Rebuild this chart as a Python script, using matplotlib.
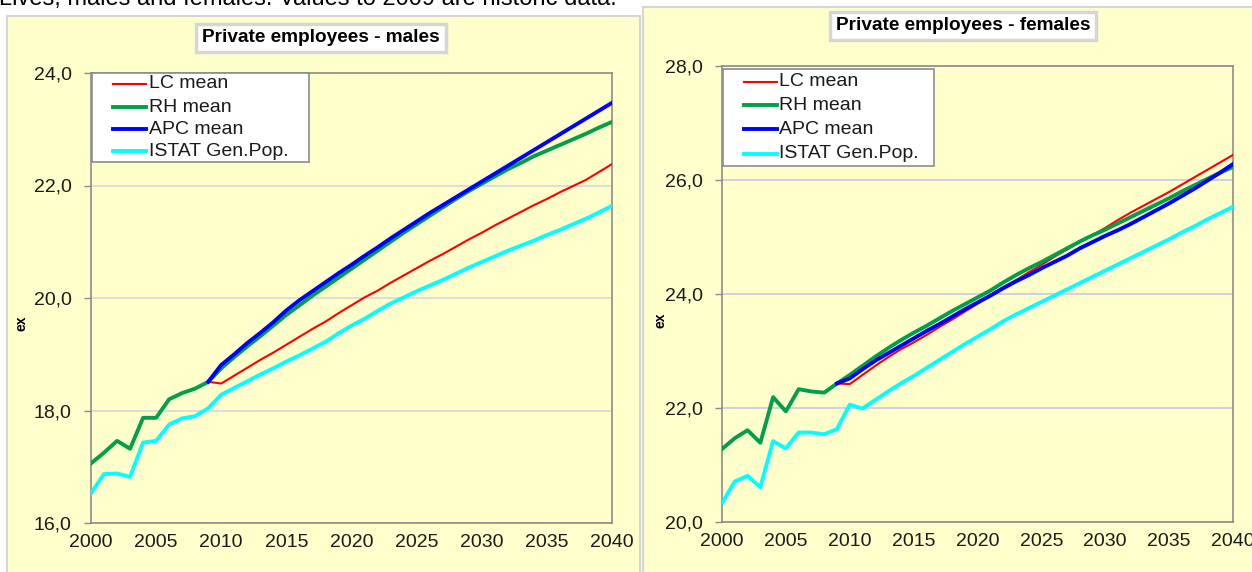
import matplotlib
matplotlib.use("Agg")
import matplotlib.pyplot as plt
from matplotlib.patches import Rectangle
from matplotlib.lines import Line2D
from matplotlib.ticker import FuncFormatter

# ---------------- data ----------------
years = list(range(2000, 2041))
proj_years = list(range(2009, 2041))

series_labels = ["LC mean", "RH mean", "APC mean", "ISTAT Gen.Pop."]
series_colors = ["#FF0000", "#00A04A", "#0000FF", "#00FFFF"]

# males
m_lc = [18.51, 18.48, 18.62, 18.76, 18.90, 19.03, 19.17, 19.31, 19.45, 19.58, 19.73,
        19.87, 20.01, 20.13, 20.27, 20.40, 20.53, 20.66, 20.78, 20.91, 21.04,
        21.16, 21.29, 21.41, 21.53, 21.65, 21.76, 21.88, 21.99, 22.10, 22.24, 22.38]
m_rh = [17.06, 17.25, 17.46, 17.32, 17.87, 17.87, 18.20, 18.31, 18.39, 18.51,
        18.75, 18.95, 19.14, 19.32, 19.51, 19.70, 19.87, 20.04, 20.20, 20.36,
        20.52, 20.68, 20.84, 21.00, 21.16, 21.31, 21.46, 21.61, 21.76, 21.90,
        22.03, 22.16, 22.29, 22.40, 22.52, 22.62, 22.72, 22.82, 22.92, 23.03, 23.13]
m_apc = [18.51, 18.81, 19.00, 19.20, 19.38, 19.57, 19.78, 19.96, 20.12, 20.28, 20.44,
         20.59, 20.75, 20.90, 21.06, 21.21, 21.36, 21.51, 21.65, 21.79, 21.93,
         22.07, 22.21, 22.35, 22.49, 22.63, 22.77, 22.91, 23.05, 23.19, 23.33, 23.47]
m_istat = [16.53, 16.87, 16.88, 16.82, 17.43, 17.46, 17.75, 17.86, 17.90, 18.04,
           18.28, 18.40, 18.52, 18.64, 18.75, 18.87, 18.98, 19.10, 19.22, 19.37,
           19.51, 19.63, 19.77, 19.90, 20.01, 20.12, 20.22, 20.32, 20.43, 20.54,
           20.64, 20.74, 20.84, 20.93, 21.02, 21.12, 21.21, 21.31, 21.41, 21.52, 21.64]

# females
f_lc = [22.43, 22.42, 22.58, 22.74, 22.89, 23.03, 23.15, 23.28, 23.42, 23.55, 23.69,
        23.83, 23.98, 24.12, 24.24, 24.38, 24.51, 24.65, 24.78, 24.91, 25.03,
        25.16, 25.30, 25.43, 25.55, 25.67, 25.79, 25.92, 26.05, 26.18, 26.31, 26.44]
f_rh = [21.28, 21.47, 21.61, 21.39, 22.19, 21.94, 22.33, 22.29, 22.27, 22.43,
        22.58, 22.74, 22.90, 23.05, 23.19, 23.32, 23.44, 23.57, 23.70, 23.82,
        23.94, 24.06, 24.20, 24.33, 24.45, 24.56, 24.68, 24.80, 24.92, 25.03,
        25.13, 25.24, 25.35, 25.46, 25.57, 25.68, 25.80, 25.91, 26.02, 26.13, 26.23]
f_apc = [22.43, 22.52, 22.68, 22.83, 22.96, 23.09, 23.22, 23.35, 23.47, 23.60, 23.73,
         23.85, 23.97, 24.10, 24.22, 24.33, 24.45, 24.56, 24.67, 24.80, 24.91,
         25.02, 25.12, 25.23, 25.35, 25.47, 25.59, 25.72, 25.85, 25.99, 26.13, 26.28]
f_istat = [20.33, 20.71, 20.81, 20.61, 21.42, 21.29, 21.57, 21.57, 21.54, 21.63,
           22.06, 21.99, 22.14, 22.29, 22.43, 22.56, 22.70, 22.84, 22.98, 23.12,
           23.25, 23.38, 23.52, 23.64, 23.75, 23.86, 23.97, 24.08, 24.19, 24.30,
           24.41, 24.52, 24.63, 24.74, 24.85, 24.96, 25.08, 25.19, 25.31, 25.42, 25.53]

x_ticks = [2000, 2005, 2010, 2015, 2020, 2025, 2030, 2035, 2040]
m_yticks = [16, 18, 20, 22, 24]
f_yticks = [20, 22, 24, 26, 28]

# ---------------- layout ----------------
W, H = 1252, 572
plt.rcParams["font.family"] = ["Liberation Sans", "DejaVu Sans"]
fig = plt.figure(figsize=(W / 100, H / 100), dpi=100)
fig.patch.set_facecolor("white")

def fx(x):
    return x / W

def fy(y):
    return 1 - y / H

YELLOW = "#FFFFCC"

# panels
for (x0, y0, x1, y1) in [(7, 16, 640, 575), (643, 7, 1255, 575)]:
    fig.add_artist(Rectangle((fx(x0), fy(y1)), fx(x1) - fx(x0), fy(y0) - fy(y1),
                             transform=fig.transFigure, facecolor=YELLOW,
                             edgecolor="#D6D6D6", linewidth=1.5, zorder=-5))

# top (cut) caption
fig.text(fx(-1), fy(5), "Lives, males and females. Values to 2009 are historic data.",
         fontsize=17, va="baseline", ha="left", color="black")

comma_fmt = FuncFormatter(lambda v, p: f"{v:.1f}".replace(".", ","))

def make_axes(rect_px, data, yticks, grid_color):
    x0, y0, x1, y1 = rect_px
    ax = fig.add_axes([fx(x0), fy(y1), fx(x1) - fx(x0), fy(y0) - fy(y1)])
    ax.set_facecolor(YELLOW)
    lc, rh, apc, istat = data
    ax.plot(proj_years, lc, color=series_colors[0], lw=1.5, zorder=3)
    ax.plot(years, rh, color=series_colors[1], lw=2.8, zorder=4)
    ax.plot(proj_years, apc, color=series_colors[2], lw=2.8, zorder=5)
    ax.plot(years, istat, color=series_colors[3], lw=2.8, zorder=6)
    ax.set_xlim(2000, 2040)
    ax.set_ylim(yticks[0], yticks[-1])
    ax.set_xticks(x_ticks)
    ax.set_yticks(yticks)
    ax.yaxis.set_major_formatter(comma_fmt)
    ax.yaxis.grid(True, color=grid_color, lw=1.3)
    ax.set_axisbelow(True)
    for s in ax.spines.values():
        s.set_color("#8C8C8C")
        s.set_linewidth(1.2)
    ax.tick_params(axis="y", length=5, width=1, color="#8C8C8C", pad=9,
                   labelsize=14, labelcolor="#1A1A1A")
    ax.tick_params(axis="x", length=0, pad=8, labelsize=14, labelcolor="#1A1A1A")
    return ax

ax1 = make_axes((91, 73, 612, 523), (m_lc, m_rh, m_apc, m_istat), m_yticks, "#DADADF")
ax2 = make_axes((722, 66, 1233, 522), (f_lc, f_rh, f_apc, f_istat), f_yticks, "#CDCDE2")

# titles
fig.text(fx(321), fy(38), "Private employees - males", fontsize=13.7, fontweight="bold",
         ha="center", va="center",
         bbox=dict(boxstyle="square,pad=0.3", fc="white", ec="#D6D6D6", lw=2.5))
fig.text(fx(963), fy(26), "Private employees - females", fontsize=13.7, fontweight="bold",
         ha="center", va="center",
         bbox=dict(boxstyle="square,pad=0.3", fc="white", ec="#D6D6D6", lw=2.5))

# y labels
fig.text(fx(21), fy(323), "ex", rotation=90, fontsize=10, fontweight="bold",
         ha="center", va="center")
fig.text(fx(661), fy(320), "ex", rotation=90, fontsize=10, fontweight="bold",
         ha="center", va="center")

# legends
def draw_legend(box, hx0, hx1, tx, rows):
    bx0, by0, bx1, by1 = box
    fig.add_artist(Rectangle((fx(bx0), fy(by1)), fx(bx1) - fx(bx0), fy(by0) - fy(by1),
                             transform=fig.transFigure, facecolor="white",
                             edgecolor="#8C8C8C", linewidth=1.2, zorder=10))
    widths = [1.5, 2.8, 2.8, 2.8]
    for lab, col, lw, ry in zip(series_labels, series_colors, widths, rows):
        fig.add_artist(Line2D([fx(hx0), fx(hx1)], [fy(ry), fy(ry)],
                              transform=fig.transFigure, color=col, lw=lw, zorder=11))
        fig.text(fx(tx), fy(ry), lab, fontsize=14, ha="left", va="center",
                 color="#1A1A1A", zorder=12)

draw_legend((92, 73, 309, 162), 113, 146, 149, [84, 107, 129, 151])
draw_legend((723, 69, 934, 166), 744, 777, 779, [82, 105, 129, 154])

fig.savefig("out.png", dpi=100)
